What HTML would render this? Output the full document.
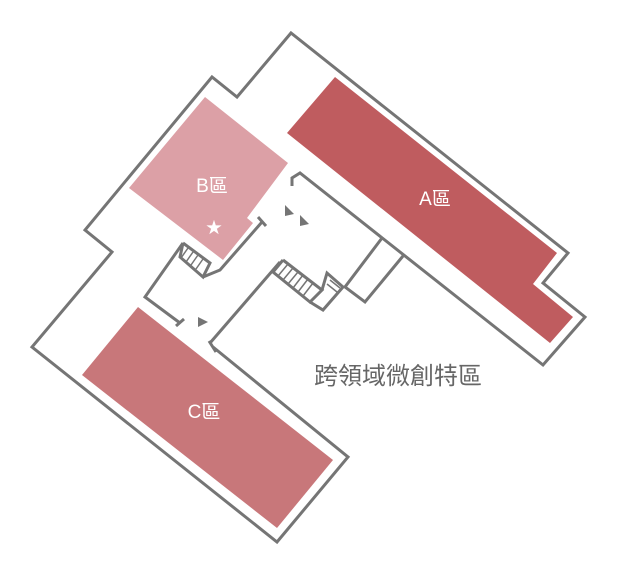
<!DOCTYPE html>
<html><head><meta charset="utf-8"><style>
html,body{margin:0;padding:0;background:#fff;}
svg{display:block}
text{font-family:"Liberation Sans","Noto Sans CJK TC",sans-serif;}
</style></head><body>
<svg width="617" height="575" viewBox="0 0 617 575" xmlns="http://www.w3.org/2000/svg">
<!-- rooms -->
<polygon points="205,97 288,163 247,218 253,223 223,260 129,188" fill="#dca0a6"/>
<polygon points="287,133 335,77 557,253 533,284 573,317 550,343" fill="#bf5c5f"/>
<polygon points="138,307 333,460 277,528 82,375" fill="#c8777a"/>
<!-- walls -->
<g fill="none" stroke="#757575" stroke-width="3" stroke-linejoin="miter">
<polyline points="292,186 292,178 300,173 543,365 585,317 543,283 568,253 291,33 237,97 212,77 85,230 112,252 32,347 277,542 348,457 213,347"/>
<polyline points="209,341 216,352"/>
<polyline points="382,238 345,287 365,302 403,256"/>
<polyline points="262,222 220,270 203,277"/>
<polyline points="258,217 266,226"/>
<polyline points="183,243 210,263 203,277 180,257 183,243"/>
<polyline points="183,243 145,297 180,323"/>
<polyline points="176,326 184,319"/>
<polyline points="283,260 322,290 310,302 273,272 283,260"/>
<polyline points="280,262 210,343"/>
<polyline points="310,302 323,310 343,287 327,273 322,290"/>
</g>
<g stroke="#757575" stroke-width="1.5">
<line x1="188" y1="248" x2="181" y2="258"/><line x1="193" y1="252" x2="186" y2="262"/><line x1="198" y1="255" x2="191" y2="265"/><line x1="203" y1="259" x2="196" y2="269"/>
<line x1="288" y1="264" x2="278" y2="276"/><line x1="293" y1="268" x2="283" y2="280"/><line x1="298" y1="272" x2="288" y2="284"/><line x1="303" y1="275" x2="293" y2="288"/><line x1="308" y1="279" x2="298" y2="292"/><line x1="313" y1="283" x2="303" y2="296"/>
<line x1="330" y1="280" x2="340" y2="288"/><line x1="327" y1="284" x2="337" y2="292"/>
</g>
<g fill="#757575">
<polygon points="285,205 294,214 285,216"/>
<polygon points="300,215 309,224 300,226"/>
<polygon points="198,317 208,322 198,327"/>
</g>
<text x="212" y="192" font-size="19" fill="#fff" text-anchor="middle">B區</text>
<text x="214" y="233" font-size="16" fill="#fff" text-anchor="middle">★</text>
<text x="435" y="205" font-size="19" fill="#fff" text-anchor="middle">A區</text>
<text x="204" y="418" font-size="19" fill="#fff" text-anchor="middle">C區</text>
<text x="398" y="384" font-size="24" fill="#666" text-anchor="middle">跨領域微創特區</text>
</svg>
</body></html>
